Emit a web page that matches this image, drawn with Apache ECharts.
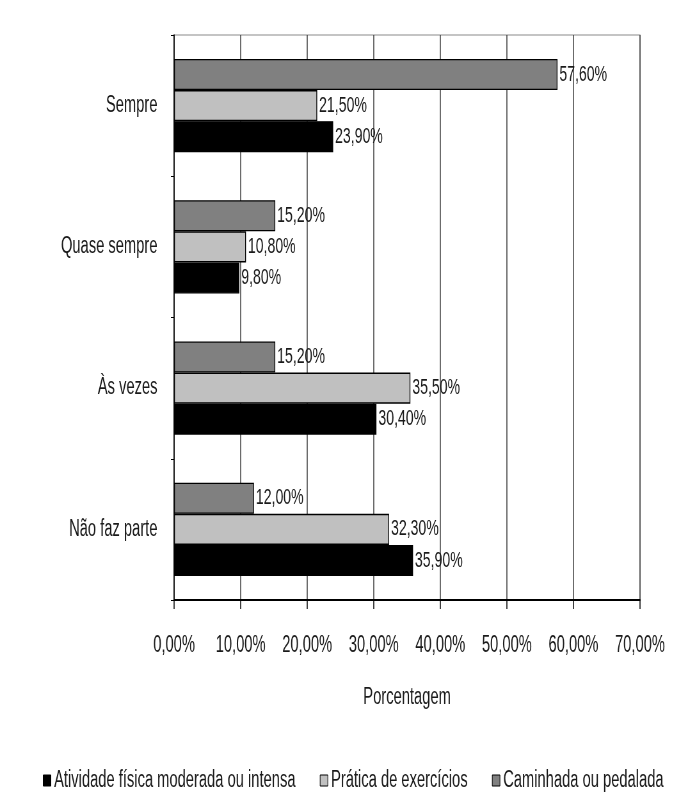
<!DOCTYPE html>
<html>
<head>
<meta charset="utf-8">
<script src="https://cdn.jsdelivr.net/npm/echarts@6/dist/echarts.min.js"></script>
<style>
html,body{margin:0;padding:0;background:#fff;overflow:hidden;}
#wrap{width:676px;height:793px;overflow:hidden;position:relative;}
/* The reference uses a strongly condensed type; the chart is drawn wider and squeezed horizontally. */
#chart{width:1056px;height:793px;transform:scaleX(0.64);transform-origin:0 0;position:absolute;left:0;top:0;}
</style>
</head>
<body>
<div id="wrap"><div id="chart"></div></div>
<script>
const categories = ['Não faz parte', 'Às vezes', 'Quase sempre', 'Sempre'];
const seriesNames = ['Atividade física moderada ou intensa', 'Prática de exercícios', 'Caminhada ou pedalada'];
const atividade = [35.9, 30.4, 9.8, 23.9];
const pratica = [32.3, 35.5, 10.8, 21.5];
const caminhada = [12.0, 15.2, 15.2, 57.6];
const xTicks = [0, 10, 20, 30, 40, 50, 60, 70];
const axisTitle = 'Porcentagem';

const FONT = '"Liberation Sans", Arial, sans-serif';
const FS = 23;
const fmt = v => v.toFixed(2).replace('.', ',') + '%';

const chart = echarts.init(document.getElementById('chart'), null, {renderer: 'canvas', width: 1056, height: 793});
const mk = (name, data, color) => ({
  name: name,
  type: 'bar',
  data: data,
  barGap: '0%',
  barCategoryGap: '34%',
  itemStyle: {color: color, borderColor: '#000', borderWidth: 1.3},
  label: {
    show: true, position: 'right', distance: 3,
    formatter: p => fmt(p.value),
    fontFamily: FONT, fontSize: 22, color: '#1a1a1a'
  }
});

chart.setOption({
  animation: false,
  backgroundColor: '#fff',
  textStyle: {fontFamily: FONT},
  grid: {left: 272, right: 56, top: 35, bottom: 193, show: true, borderColor: '#8a8a8a', borderWidth: 1.2},
  xAxis: {
    type: 'value', min: xTicks[0], max: xTicks[xTicks.length - 1], interval: 10,
    name: axisTitle, nameLocation: 'middle', nameGap: 86,
    nameTextStyle: {fontFamily: FONT, fontSize: FS, color: '#1a1a1a'},
    axisLine: {show: true, lineStyle: {color: '#000', width: 2}},
    axisTick: {show: true, inside: false, length: 9, lineStyle: {color: '#000', width: 1.5}},
    axisLabel: {formatter: v => fmt(v), margin: 34, fontFamily: FONT, fontSize: FS, color: '#1a1a1a'},
    splitLine: {show: true, lineStyle: {color: '#3a3a3a', width: 1.5}}
  },
  yAxis: {
    type: 'category', data: categories,
    axisLine: {show: true, lineStyle: {color: '#000', width: 1.6}},
    axisTick: {show: true, length: 5, alignWithLabel: false, lineStyle: {color: '#000', width: 1}},
    axisLabel: {margin: 26, fontFamily: FONT, fontSize: FS, color: '#1a1a1a'},
    splitLine: {show: false}
  },
  legend: {
    top: 764, left: 62, icon: 'rect', itemWidth: 12, itemHeight: 11, itemGap: 38,
    data: seriesNames,
    textStyle: {fontFamily: FONT, fontSize: FS, color: '#1a1a1a'},
    itemStyle: {borderColor: '#000', borderWidth: 1}
  },
  series: [
    mk(seriesNames[2], caminhada, '#808080'),
    mk(seriesNames[1], pratica, '#c0c0c0'),
    mk(seriesNames[0], atividade, '#000000')
  ]
});
</script>
</body>
</html>
